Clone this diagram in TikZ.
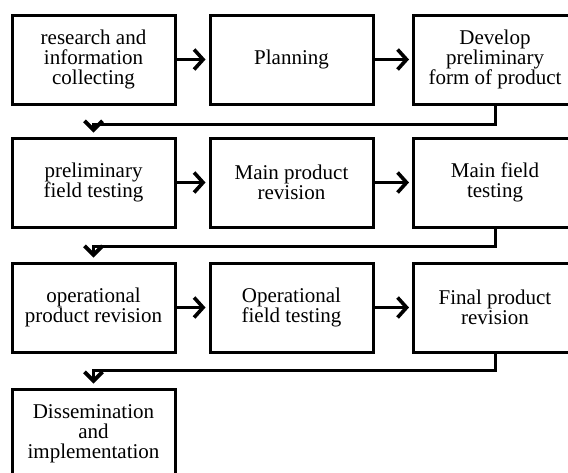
\documentclass[tikz,border=0pt]{standalone}
\usepackage{fontspec}
\setmainfont{Liberation Serif}
\usetikzlibrary{arrows.meta}
\begin{document}
\begin{tikzpicture}[x=1pt,y=-1pt,
  stage/.style={draw=black,line width=3pt,align=center,inner sep=0pt,
    minimum width=163pt,minimum height=89pt,
    font=\fontsize{21}{20}\selectfont},
  arr/.style={line width=3pt,-{Straight Barb[length=9pt,width=20pt,line width=3.6pt]}},
  turn/.style={line width=3pt,line join=miter,-{Straight Barb[length=9pt,width=18pt,line width=3.8pt]}},
]
\useasboundingbox (0,0) rectangle (568,472);
\fill[white] (0,0) rectangle (568,472);
% row 1
\node[stage] (r1c1) at (93.5,59.5) {research and\\information\\collecting};
\node[stage] (r1c2) at (291.5,59.5) {Planning};
\node[stage] (r1c3) at (495,59.5) {Develop\\preliminary\\form of product};
% row 2
\node[stage] (r2c1) at (93.5,182.5) {preliminary\\field testing};
\node[stage] (r2c2) at (291.5,182.5) {Main product\\revision};
\node[stage] (r2c3) at (495,182.5) {Main field\\testing};
% row 3
\node[stage] (r3c1) at (93.5,307.5) {operational\\product revision};
\node[stage] (r3c2) at (291.5,307.5) {Operational\\field testing};
\node[stage] (r3c3) at (495,307.5) {Final product\\revision};
% row 4
\node[stage] (r4c1) at (93.5,433.5) {Dissemination\\and\\implementation};
% horizontal arrows
\draw[arr,shorten >=3pt] (r1c1.east) -- (r1c2.west);
\draw[arr,shorten >=3pt] (r1c2.east) -- (r1c3.west);
\draw[arr,shorten >=3pt] (r2c1.east) -- (r2c2.west);
\draw[arr,shorten >=3pt] (r2c2.east) -- (r2c3.west);
\draw[arr,shorten >=3pt] (r3c1.east) -- (r3c2.west);
\draw[arr,shorten >=3pt] (r3c2.east) -- (r3c3.west);
% row-to-row connectors
\draw[turn,shorten >=4pt] (r1c3.south) -- ++(0,19) -| (r2c1.north);
\draw[turn,shorten >=4pt] (r2c3.south) -- ++(0,18) -| (r3c1.north);
\draw[turn,shorten >=4pt] (r3c3.south) -- ++(0,17) -| (r4c1.north);
\end{tikzpicture}
\end{document}
